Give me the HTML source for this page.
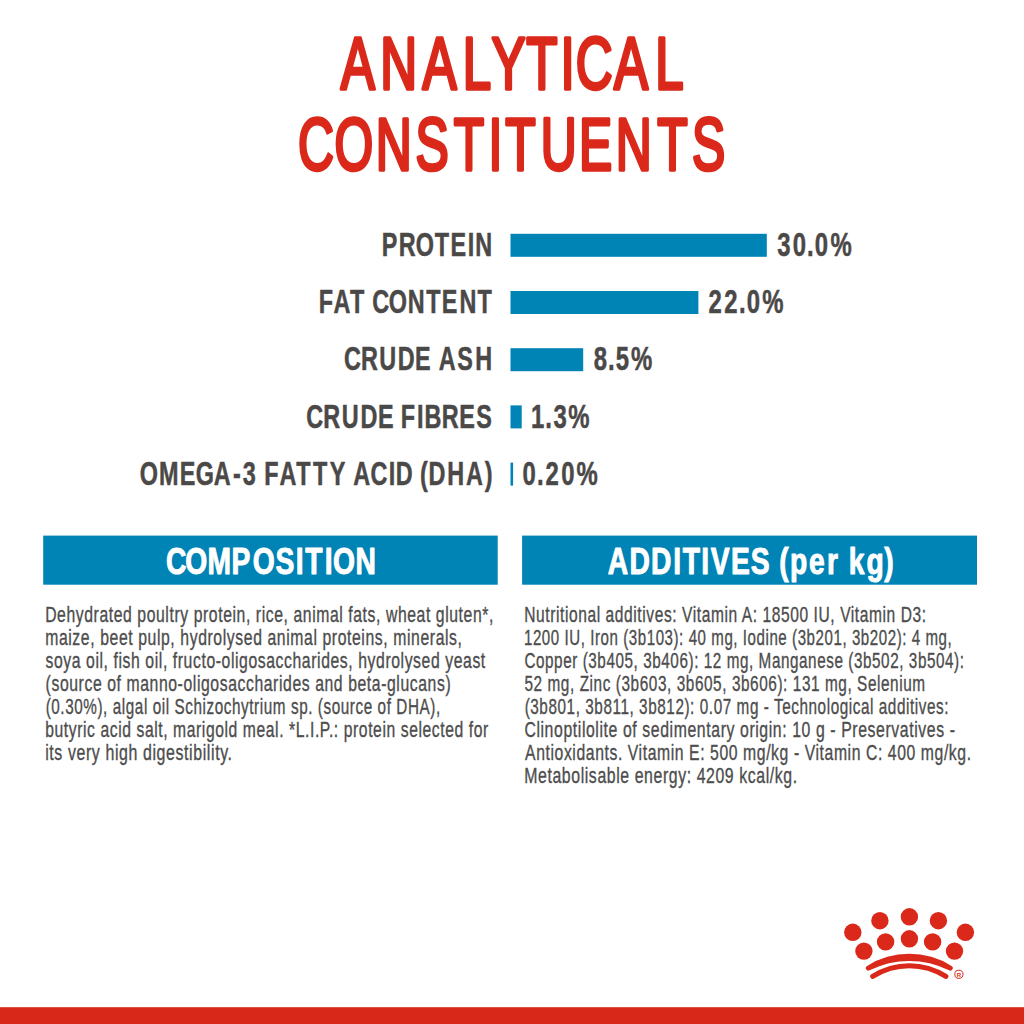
<!DOCTYPE html>
<html><head><meta charset="utf-8"><title>Analytical Constituents</title>
<style>html,body{margin:0;padding:0;background:#fff;}svg{display:block;}</style></head>
<body>
<svg width="1024" height="1024" viewBox="0 0 1024 1024" font-family="'Liberation Sans', Arial, sans-serif">
<rect width="1024" height="1024" fill="#fff"/>
<rect x="510.5" y="233.80" width="256.3" height="23" fill="#0083b5"/><rect x="510.5" y="291.00" width="187.9" height="23" fill="#0083b5"/><rect x="510.5" y="348.20" width="72.7" height="23" fill="#0083b5"/><rect x="510.5" y="405.40" width="11.2" height="23" fill="#0083b5"/><rect x="510.5" y="462.60" width="2.6" height="23" fill="#0083b5"/>
<rect x="43.2" y="535.6" width="454.5" height="49.1" fill="#0083b5"/>
<rect x="522.1" y="535.6" width="454.9" height="49.1" fill="#0083b5"/>
<text transform="matrix(0.6942 0 0 1 0 89.10)" x="490.94 547.78 608.62 666.62 708.02 757.96 807.36 829.31 884.53 943.76" font-weight="400" font-size="73.60" fill="#da281a" stroke="#da281a" stroke-width="3.6" stroke-linejoin="round">ANALYTICAL</text>
<text transform="matrix(0.6794 0 0 1 0 170.20)" x="438.63 492.20 553.14 611.69 667.96 719.20 743.83 796.09 852.39 906.46 967.48 1018.37" font-weight="400" font-size="73.31" fill="#da281a" stroke="#da281a" stroke-width="3.6" stroke-linejoin="round">CONSTITUENTS</text>
<text transform="matrix(0.7150 0 0 1 0 255.75)" x="534.02 557.61 581.65 608.01 630.00 654.09 664.85" font-weight="700" font-size="32.73" fill="#4b4848" stroke="#4b4848" stroke-width="0.5" stroke-linejoin="round">PROTEIN</text>
<text transform="matrix(0.7150 0 0 1 0 313.00)" x="445.76 466.28 489.55 494.55 520.71 543.61 570.16 596.20 617.98 642.54 667.87" font-weight="700" font-size="32.73" fill="#4b4848" stroke="#4b4848" stroke-width="0.5" stroke-linejoin="round">FAT CONTENT</text>
<text transform="matrix(0.7150 0 0 1 0 370.25)" x="480.99 504.81 530.26 556.46 580.56 585.56 613.55 639.40 664.78" font-weight="700" font-size="32.73" fill="#4b4848" stroke="#4b4848" stroke-width="0.5" stroke-linejoin="round">CRUDE ASH</text>
<text transform="matrix(0.7150 0 0 1 0 427.50)" x="428.47 452.22 478.09 504.08 528.75 533.75 560.65 583.32 593.57 617.75 642.38 666.11" font-weight="700" font-size="32.73" fill="#4b4848" stroke="#4b4848" stroke-width="0.5" stroke-linejoin="round">CRUDE FIBRES</text>
<text transform="matrix(0.7150 0 0 1 0 484.75)" x="195.35 222.36 251.26 273.77 298.93 325.83 339.49 344.49 369.60 390.89 414.45 437.80 461.11 466.11 493.90 518.05 543.67 553.38 558.38 587.55 599.26 625.62 651.87 678.01" font-weight="700" font-size="32.73" fill="#4b4848" stroke="#4b4848" stroke-width="0.5" stroke-linejoin="round">OMEGA-3 FATTY ACID (DHA)</text>
<text transform="matrix(0.7300 0 0 1 0 255.75)" x="1064.66 1085.95 1105.50 1116.19 1137.63" font-weight="700" font-size="32.73" fill="#4b4848" stroke="#4b4848" stroke-width="0.5" stroke-linejoin="round">30.0%</text>
<text transform="matrix(0.7300 0 0 1 0 313.00)" x="970.60 991.97 1012.21 1023.04 1044.27" font-weight="700" font-size="32.73" fill="#4b4848" stroke="#4b4848" stroke-width="0.5" stroke-linejoin="round">22.0%</text>
<text transform="matrix(0.7300 0 0 1 0 370.25)" x="813.26 832.96 843.62 864.34" font-weight="700" font-size="32.73" fill="#4b4848" stroke="#4b4848" stroke-width="0.5" stroke-linejoin="round">8.5%</text>
<text transform="matrix(0.7300 0 0 1 0 427.50)" x="727.57 746.80 758.09 778.58" font-weight="700" font-size="32.73" fill="#4b4848" stroke="#4b4848" stroke-width="0.5" stroke-linejoin="round">1.3%</text>
<text transform="matrix(0.7300 0 0 1 0 484.75)" x="715.85 735.70 747.11 768.80 789.68" font-weight="700" font-size="32.73" fill="#4b4848" stroke="#4b4848" stroke-width="0.5" stroke-linejoin="round">0.20%</text>
<text transform="matrix(0.7700 0 0 1 0 573.80)" x="215.53 240.64 269.59 300.63 328.23 357.95 384.10 396.46 421.77 432.52 461.77" font-weight="700" font-size="36.65" fill="#ffffff" stroke="#ffffff" stroke-width="1.0" stroke-linejoin="round">COMPOSITION</text>
<text transform="matrix(0.7700 0 0 1 0 573.90)" x="789.27 817.60 845.46 874.23 886.65 910.73 923.00 949.33 975.15 980.15 1012.01 1025.93 1050.70 1074.11 1079.11 1102.22 1125.25 1148.35" font-weight="700" font-size="36.65" fill="#ffffff" stroke="#ffffff" stroke-width="1.0" stroke-linejoin="round">ADDITIVES (per kg)</text>
<text transform="matrix(0.7422 0 0 1 45.16 621.50)" font-weight="400" font-size="21.20" fill="#4d4d4d" stroke="#4d4d4d" stroke-width="0.35" stroke-linejoin="round" letter-spacing="0.8">Dehydrated poultry protein, rice, animal fats, wheat gluten*,</text>
<text transform="matrix(0.7440 0 0 1 45.19 644.58)" font-weight="400" font-size="21.20" fill="#4d4d4d" stroke="#4d4d4d" stroke-width="0.35" stroke-linejoin="round" letter-spacing="0.8">maize, beet pulp, hydrolysed animal proteins, minerals,</text>
<text transform="matrix(0.7431 0 0 1 45.47 667.66)" font-weight="400" font-size="21.20" fill="#4d4d4d" stroke="#4d4d4d" stroke-width="0.35" stroke-linejoin="round" letter-spacing="0.8">soya oil, fish oil, fructo-oligosaccharides, hydrolysed yeast</text>
<text transform="matrix(0.7433 0 0 1 45.61 690.74)" font-weight="400" font-size="21.20" fill="#4d4d4d" stroke="#4d4d4d" stroke-width="0.35" stroke-linejoin="round" letter-spacing="0.8">(source of manno-oligosaccharides and beta-glucans)</text>
<text transform="matrix(0.7204 0 0 1 45.63 713.82)" font-weight="400" font-size="21.20" fill="#4d4d4d" stroke="#4d4d4d" stroke-width="0.35" stroke-linejoin="round" letter-spacing="0.8">(0.30%), algal oil Schizochytrium sp. (source of DHA),</text>
<text transform="matrix(0.7397 0 0 1 45.20 736.90)" font-weight="400" font-size="21.20" fill="#4d4d4d" stroke="#4d4d4d" stroke-width="0.35" stroke-linejoin="round" letter-spacing="0.8">butyric acid salt, marigold meal. *L.I.P.: protein selected for</text>
<text transform="matrix(0.7514 0 0 1 45.18 759.98)" font-weight="400" font-size="21.20" fill="#4d4d4d" stroke="#4d4d4d" stroke-width="0.35" stroke-linejoin="round" letter-spacing="0.8">its very high digestibility.</text>
<text transform="matrix(0.7339 0 0 1 524.27 621.50)" font-weight="400" font-size="21.20" fill="#4d4d4d" stroke="#4d4d4d" stroke-width="0.35" stroke-linejoin="round" letter-spacing="0.8">Nutritional additives: Vitamin A: 18500 IU, Vitamin D3:</text>
<text transform="matrix(0.7114 0 0 1 523.98 644.58)" font-weight="400" font-size="21.20" fill="#4d4d4d" stroke="#4d4d4d" stroke-width="0.35" stroke-linejoin="round" letter-spacing="0.8">1200 IU, Iron (3b103): 40 mg, Iodine (3b201, 3b202): 4 mg,</text>
<text transform="matrix(0.7197 0 0 1 524.40 667.66)" font-weight="400" font-size="21.20" fill="#4d4d4d" stroke="#4d4d4d" stroke-width="0.35" stroke-linejoin="round" letter-spacing="0.8">Copper (3b405, 3b406): 12 mg, Manganese (3b502, 3b504):</text>
<text transform="matrix(0.7234 0 0 1 524.45 690.74)" font-weight="400" font-size="21.20" fill="#4d4d4d" stroke="#4d4d4d" stroke-width="0.35" stroke-linejoin="round" letter-spacing="0.8">52 mg, Zinc (3b603, 3b605, 3b606): 131 mg, Selenium</text>
<text transform="matrix(0.7205 0 0 1 524.63 713.82)" font-weight="400" font-size="21.20" fill="#4d4d4d" stroke="#4d4d4d" stroke-width="0.35" stroke-linejoin="round" letter-spacing="0.8">(3b801, 3b811, 3b812): 0.07 mg - Technological additives:</text>
<text transform="matrix(0.7464 0 0 1 524.38 736.90)" font-weight="400" font-size="21.20" fill="#4d4d4d" stroke="#4d4d4d" stroke-width="0.35" stroke-linejoin="round" letter-spacing="0.8">Clinoptilolite of sedimentary origin: 10 g - Preservatives -</text>
<text transform="matrix(0.7426 0 0 1 525.07 759.98)" font-weight="400" font-size="21.20" fill="#4d4d4d" stroke="#4d4d4d" stroke-width="0.35" stroke-linejoin="round" letter-spacing="0.8">Antioxidants. Vitamin E: 500 mg/kg - Vitamin C: 400 mg/kg.</text>
<text transform="matrix(0.7478 0 0 1 524.26 783.06)" font-weight="400" font-size="21.20" fill="#4d4d4d" stroke="#4d4d4d" stroke-width="0.35" stroke-linejoin="round" letter-spacing="0.8">Metabolisable energy: 4209 kcal/kg.</text>
<g fill="#da281a"><circle cx="852.8" cy="932.3" r="8.7"/><circle cx="879.9" cy="920.7" r="8.7"/><circle cx="909.4" cy="916.8" r="8.7"/><circle cx="938.4" cy="920.7" r="8.7"/><circle cx="965.4" cy="932.3" r="8.7"/><circle cx="863.9" cy="951.1" r="8.7"/><circle cx="885.6" cy="941.9" r="8.7"/><circle cx="909.4" cy="938.8" r="8.7"/><circle cx="932.6" cy="941.9" r="8.7"/><circle cx="954.5" cy="951.1" r="8.7"/></g>
<g fill="none" stroke="#da281a" stroke-linecap="round">
<path d="M872.7 976.4 A67.7 67.7 0 0 1 945.9 976.4" stroke-width="5"/>
</g>
<path fill="#da281a" d="M867.1 965.9 A79.1 79.1 0 0 1 951.5 965.9 A2.5 2.5 0 0 1 949.1 970.3 A88.96 88.96 0 0 0 869.5 970.3 A2.5 2.5 0 0 1 867.1 965.9 Z"/>
<circle cx="958.9" cy="974.3" r="4.1" fill="none" stroke="#da281a" stroke-width="1"/>
<text x="958.9" y="976.6" font-size="6" font-weight="700" text-anchor="middle" fill="#da281a">R</text>
<rect x="0" y="1007.2" width="1024" height="16.8" fill="#d8281a"/>
</svg>
</body></html>
